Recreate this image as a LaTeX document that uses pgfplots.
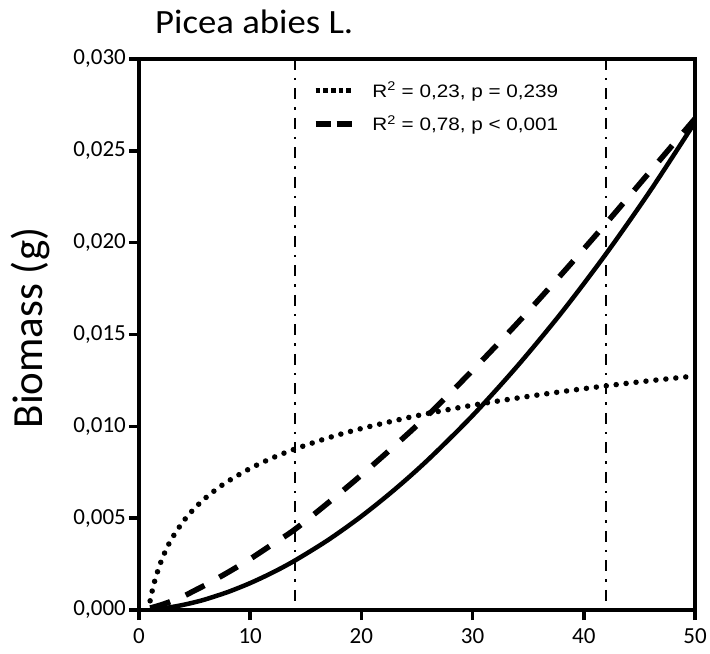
\documentclass[border=0pt]{standalone}
\usepackage{fontspec}
\setmainfont{Carlito}
\newfontfamily\arialf{Liberation Sans}
\usepackage{graphicx}
\usepackage{pgfplots}
\pgfplotsset{compat=1.18}
\begin{document}
\begin{tikzpicture}
\begin{axis}[
  at={(0,0)}, anchor=south west,
  scale only axis, width=556bp, height=551bp,
  xmin=0, xmax=50, ymin=0, ymax=0.030,
  xtick={0,10,20,30,40,50}, xticklabels={0,10,20,30,40,50},
  ytick={0,0.005,0.010,0.015,0.020,0.025,0.030},
  yticklabels={{0,000},{0,005},{0,010},{0,015},{0,020},{0,025},{0,030}},
  scaled y ticks=false,
  tick pos=left, tick align=outside,
  major tick length=10bp,
  tick style={line width=3.5bp, black},
  axis line style={line width=4bp},
  ticklabel style={font=\fontsize{23bp}{27bp}\selectfont},
  yticklabel style={inner xsep=3bp},
  xticklabel style={yshift=-5bp},
  legend style={at={(rel axis cs:0.307,0.962)}, anchor=north west, draw=none, fill=none,
    font=\arialf\fontsize{18bp}{22bp}\selectfont, row sep=17bp, column sep=18bp,
    nodes={inner sep=0pt, anchor=west}},
  legend cell align=left,
  legend image code/.code={\draw[#1] (0bp,0bp) -- (36bp,0bp);},
]
\addplot[line width=5.5bp, line cap=round, dash pattern=on 0bp off 10bp, smooth, forget plot] coordinates {
(1,0.00050) (1.2,0.00107) (1.5,0.00177) (2,0.00267) (2.5,0.00337) (3,0.00394)
(4,0.00484) (5,0.00554) (6,0.00611) (7,0.00659) (8,0.00701) (10,0.00771)
(12,0.00828) (14,0.00876) (17,0.00937) (20,0.00988) (25,0.01058) (30,0.01115)
(35,0.01163) (40,0.01205) (45,0.01242) (50,0.01274)};
\addplot[line width=5.5bp, dash pattern=on 21bp off 17bp, smooth, forget plot] coordinates {
(1,0.000105) (2,0.00028) (3,0.000497) (4,0.000747) (5,0.00106) (6,0.00137)
(8,0.00205) (10,0.00278) (12,0.00358) (14,0.00438) (17,0.00583) (20,0.00735)
(23,0.00895) (26,0.01062) (30,0.01305) (34,0.01560) (38,0.01828) (42,0.02105)
(46,0.02390) (50,0.02675)};
\addplot[line width=4.5bp, smooth, forget plot] coordinates {
(1,0.0000232) (2,0.0000809) (3,0.000168) (4,0.000282) (5,0.000421) (6,0.000584)
(8,0.000981) (10,0.001466) (12,0.002035) (14,0.002686) (17,0.003809) (20,0.005103)
(23,0.006564) (26,0.008185) (30,0.010587) (34,0.013265) (38,0.016194) (42,0.019392)
(46,0.022846) (50,0.02656)};
\addplot[line width=2.2bp, dash pattern=on 11bp off 8bp on 2.5bp off 8bp, forget plot] coordinates {(14,0.030) (14,0)};
\addplot[line width=2.2bp, dash pattern=on 11bp off 8bp on 2.5bp off 8bp, forget plot] coordinates {(42,0.030) (42,0)};
\addlegendimage{line width=4.5bp, dash pattern=on 4.5bp off 3.2bp, dash phase=0bp}
\addlegendentry{\scalebox{1.15}[1]{R\textsuperscript{2} = 0,23, p = 0,239}}
\addlegendimage{line width=5.5bp, dash pattern=on 15bp off 6bp}
\addlegendentry{\scalebox{1.15}[1]{R\textsuperscript{2} = 0,78, p < 0,001}}
\end{axis}
\node[rotate=90, anchor=base, font=\fontsize{43bp}{50bp}\selectfont, inner sep=0pt] at (-96bp,282bp) {Biomass (g)};
\node[anchor=base west, font=\fontsize{34bp}{40bp}\selectfont, inner sep=0pt] at (16bp,576bp) {\scalebox{1.08}[1]{Picea abies L.}};
\pgfresetboundingbox
\path (-139bp,-44bp) rectangle (571bp,610bp);
\end{tikzpicture}
\end{document}
